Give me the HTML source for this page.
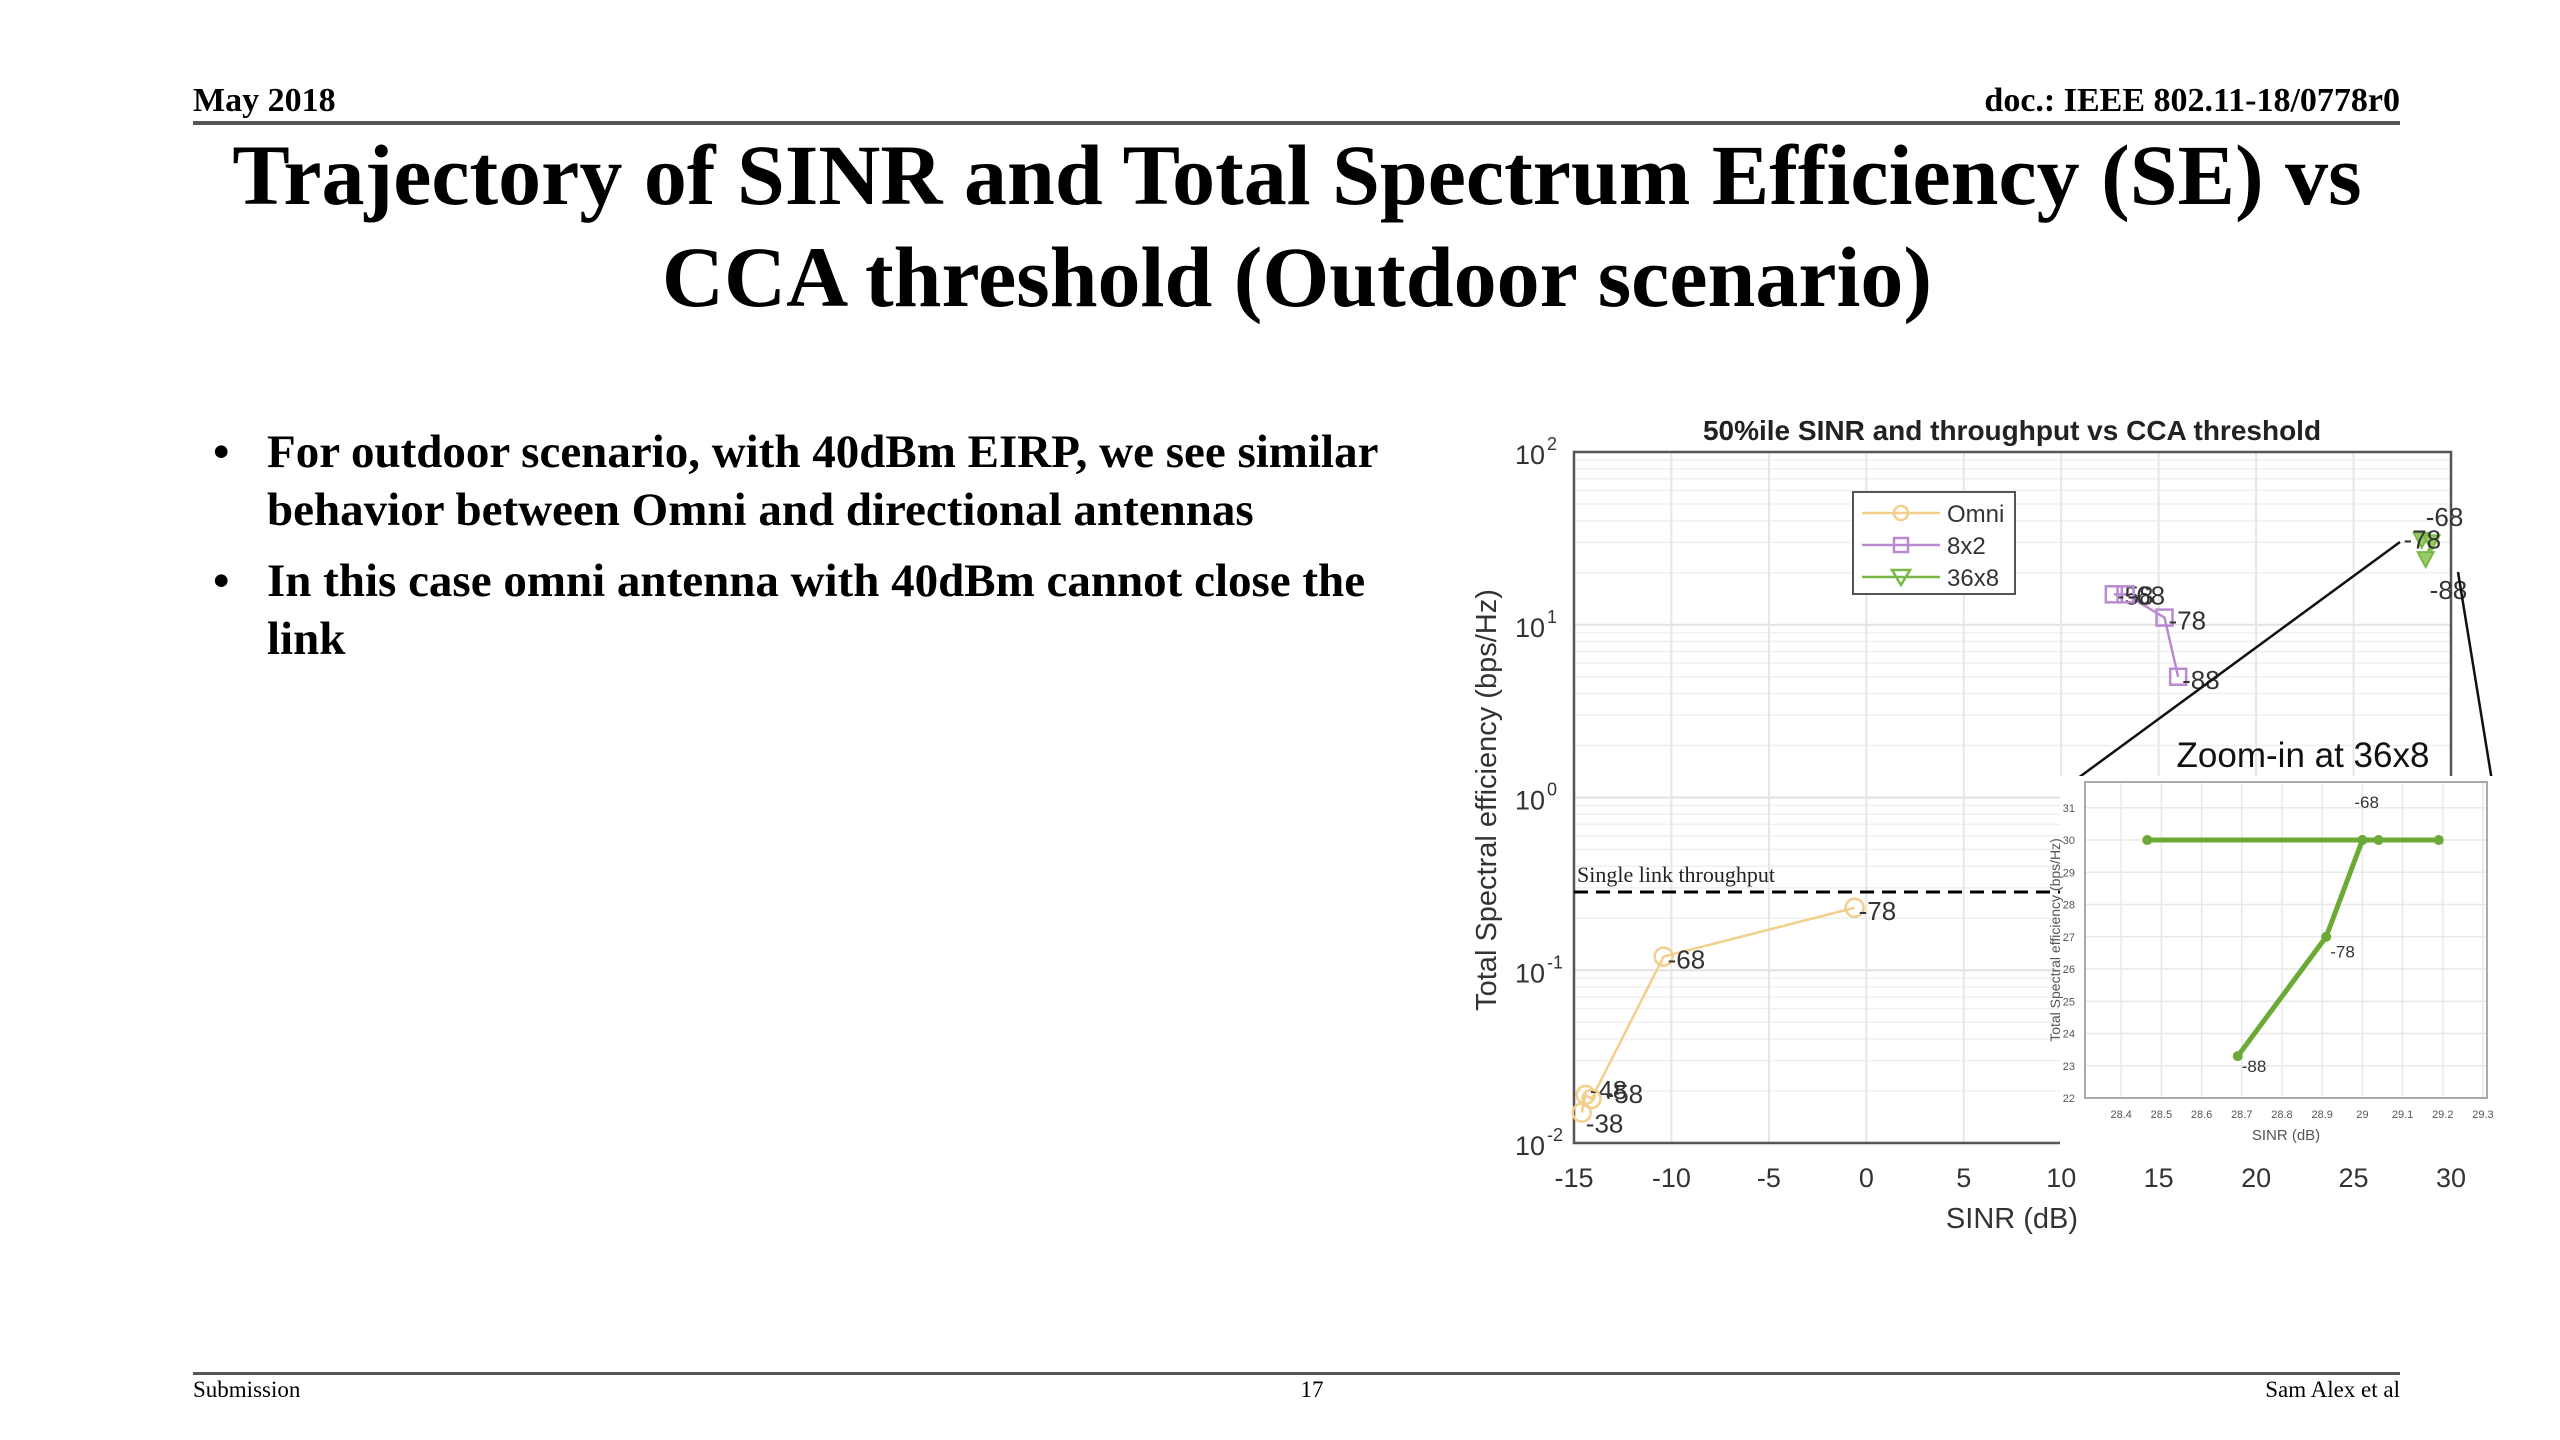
<!DOCTYPE html>
<html><head><meta charset="utf-8"><style>
html,body{margin:0;padding:0;background:#fff;}
body{width:2560px;height:1440px;position:relative;overflow:hidden;font-family:"Liberation Serif",serif;}
.t{position:absolute;white-space:nowrap;}
</style></head><body>
<div class="t" style="left:193px;top:82px;font-size:34px;font-weight:bold;">May 2018</div>
<div class="t" style="right:160px;top:82px;font-size:34px;font-weight:bold;">doc.: IEEE 802.11-18/0778r0</div>
<div style="position:absolute;left:193px;top:121px;width:2207px;height:4px;background:#555;"></div>
<div class="t" style="left:0;width:2594px;top:124px;text-align:center;font-size:86px;font-weight:bold;line-height:102px;">Trajectory of SINR and Total Spectrum Efficiency (SE) vs<br>CCA threshold (Outdoor scenario)</div>
<div style="position:absolute;left:205px;top:423px;width:1240px;font-size:47px;font-weight:bold;line-height:58px;">
 <div style="position:relative;padding-left:62px;margin-bottom:13px;"><span style="position:absolute;left:8px;">•</span>For outdoor scenario, with 40dBm EIRP, we see similar behavior between Omni and directional antennas</div>
 <div style="position:relative;padding-left:62px;"><span style="position:absolute;left:8px;">•</span>In this case omni antenna with 40dBm cannot close the link</div>
</div>
<div style="position:absolute;left:193px;top:1372px;width:2207px;height:3px;background:#555;"></div>
<div class="t" style="left:193px;top:1377px;font-size:23px;">Submission</div>
<div class="t" style="left:1287px;width:50px;text-align:center;top:1377px;font-size:23px;">17</div>
<div class="t" style="right:160px;top:1377px;font-size:23px;">Sam Alex et al</div>

<svg id="chart" width="2560" height="1440" style="position:absolute;left:0;top:0;" xmlns="http://www.w3.org/2000/svg"></svg>
<script>
const xTicks=[-15,-10,-5,0,5,10,15,20,25,30];
const yDecades=[-2,-1,0,1,2];
const omniX=[-14.6,-14.4,-14.1,-10.4,-0.6];
const omniY=[0.015,0.019,0.018,0.12,0.23];
const omniLbl=["-38","-48","-58","-68","-78"];
const x82X=[12.7,13.3,15.3,16.0];
const x82Y=[15,15,11,5];
const x82Lbl=["-58","-68","-78","-88"];
const x368X=[28.5,29.0,28.7];
const x368Y=[31,30,24];
const x368Lbl=["-68","-78","-88"];
const singleLink=0.284;
const inX=[28.465,29.0,29.04,29.19];
const inY=[30,30,30,30];
const inDX=[28.69,28.91,29.0];
const inDY=[23.3,27.0,30];
const inLbl=["-68","-78","-88"];
const inXTicks=[28.4,28.5,28.6,28.7,28.8,28.9,29,29.1,29.2,29.3];
const inYTicks=[22,23,24,25,26,27,28,29,30,31,32];

const svg=document.getElementById('chart');
const NS='http://www.w3.org/2000/svg';
function mk(tag,attrs,name,parent){const e=document.createElementNS(NS,tag);for(const k in attrs)e.setAttribute(k,attrs[k]);


(parent||svg).appendChild(e);return e;}
const L=1574,R=2451,T=452,B=1143;
const sx=v=>L+(v+15)/45*(R-L);
const sy=v=>B-(Math.log10(v)+2)/4*(B-T);
for(let d=-2;d<2;d++)for(let m=1;m<10;m++){const y=sy(m*Math.pow(10,d));mk('line',{x1:L,x2:R,y1:y,y2:y,stroke:m==1?'#e2e2e2':'#f0f0f0','stroke-width':m==1?2:1.5},'y-grid-line');}
xTicks.forEach(v=>{mk('line',{x1:sx(v),x2:sx(v),y1:T,y2:B,stroke:'#e6e6e6','stroke-width':2},'x-grid-line');});
mk('rect',{x:L,y:T,width:R-L,height:B-T,fill:'none',stroke:'#555','stroke-width':2.5},'plot-frame');
xTicks.forEach(v=>{const t=mk('text',{x:sx(v),y:1187,'font-size':27,'text-anchor':'middle',fill:'#333','font-family':'Liberation Sans, sans-serif'},'x-tick-label');t.textContent=v;});
yDecades.forEach(d=>{const t=mk('text',{x:1545,y:sy(Math.pow(10,d))+12,'font-size':27,'text-anchor':'end',fill:'#333','font-family':'Liberation Sans, sans-serif'},'y-tick-label');t.textContent='10';
const s=mk('text',{x:1547,y:sy(Math.pow(10,d))-2,'font-size':18,fill:'#333','font-family':'Liberation Sans, sans-serif'},'y-tick-exponent');s.textContent=d;});
let t=mk('text',{x:2012,y:440,'font-size':28,'font-weight':'bold','text-anchor':'middle',fill:'#222','font-family':'Liberation Sans, sans-serif'},'chart-title');t.textContent='50%ile SINR and throughput vs CCA threshold';
t=mk('text',{x:2012,y:1228,'font-size':29,'text-anchor':'middle',fill:'#333','font-family':'Liberation Sans, sans-serif'},'x-axis-title');t.textContent='SINR (dB)';
t=mk('text',{x:0,y:0,'font-size':29,'text-anchor':'middle',fill:'#333',transform:'translate(1496,800) rotate(-90)','font-family':'Liberation Sans, sans-serif'},'y-axis-title');t.textContent='Total Spectral efficiency (bps/Hz)';
mk('line',{x1:L,x2:sx(10.5),y1:sy(singleLink),y2:sy(singleLink),stroke:'#000','stroke-width':3,'stroke-dasharray':'14 8'},'single-link-line');
t=mk('text',{x:1577,y:sy(singleLink)-10,'font-size':22,fill:'#222'},'single-link-label');t.textContent='Single link throughput';
function series(xs,ys,lbls,col,shape,name,dx,dy){
 mk('polyline',{points:xs.map((v,i)=>sx(v)+','+sy(ys[i])).join(' '),fill:'none',stroke:col,'stroke-width':2.5},name+'-line');
 xs.forEach((v,i)=>{const x=sx(v),y=sy(ys[i]);
  if(shape=='o')mk('circle',{cx:x,cy:y,r:9,fill:'none',stroke:col,'stroke-width':2.5},name+'-marker');
  else if(shape=='s')mk('rect',{x:x-8,y:y-8,width:16,height:16,fill:'none',stroke:col,'stroke-width':2.5},name+'-marker');
  else mk('polygon',{points:`${x-8},${y-7} ${x+8},${y-7} ${x},${y+8}`,fill:'#9c6',stroke:col,'stroke-width':2},name+'-marker');
  const l=mk('text',{x:x+(dx[i]||4),y:y+(dy[i]||10),'font-size':26,fill:'#333','font-family':'Liberation Sans, sans-serif'},name+'-point-label');l.textContent=lbls[i];});
}
series(omniX,omniY,omniLbl,'#f2cf8a','o','omni',[4,4,14,4,4],[20,4,4,12,12]);
series(x82X,x82Y,x82Lbl,'#b98ad0','s','8x2',[2,2,4,4],[10,10,12,12]);
series(x368X,x368Y,x368Lbl,'#7ab648','v','36x8',[4,-28,0],[-14,6,40]);
mk('rect',{x:1853,y:492,width:162,height:102,fill:'#fff',stroke:'#555','stroke-width':2},'legend-box');
[['Omni','#f2cf8a','o'],['8x2','#b98ad0','s'],['36x8','#7ab648','v']].forEach((e,i)=>{const y=513+i*32;
 mk('line',{x1:1862,x2:1940,y1:y,y2:y,stroke:e[1],'stroke-width':2.5},'legend-swatch');
 if(e[2]=='o')mk('circle',{cx:1901,cy:y,r:7,fill:'none',stroke:e[1],'stroke-width':2.5},'legend-marker');
 else if(e[2]=='s')mk('rect',{x:1894,y:y-7,width:14,height:14,fill:'none',stroke:e[1],'stroke-width':2.5},'legend-marker');
 else mk('polygon',{points:`1892,${y-7} 1910,${y-7} 1901,${y+8}`,fill:'none',stroke:e[1],'stroke-width':2.5},'legend-marker');
 const l=mk('text',{x:1947,y:y+9,'font-size':24,fill:'#333','font-family':'Liberation Sans, sans-serif'},'legend-label');l.textContent=e[0];});
mk('line',{x1:2074,y1:781,x2:2400,y2:542,stroke:'#111','stroke-width':2.5},'zoom-connector-left');
mk('line',{x1:2492,y1:781,x2:2458,y2:572,stroke:'#111','stroke-width':2.5},'zoom-connector-right');
t=mk('text',{x:2303,y:767,'font-size':35,'text-anchor':'middle',fill:'#111','font-family':'Liberation Sans, sans-serif'},'inset-title');t.textContent='Zoom-in at 36x8';
const iL=2085,iR=2487,iT=782,iB=1098;
const ix=v=>iL+(v-28.31)/(29.31-28.31)*(iR-iL);
const iy=v=>iB-(v-22)/(31.8-22)*(iB-iT);
mk('rect',{x:2060,y:776,width:448,height:382,fill:'#fff'},'inset-background');
inXTicks.forEach(v=>{mk('line',{x1:ix(v),x2:ix(v),y1:iT,y2:iB,stroke:'#e8e8e8','stroke-width':1.5},'inset-x-grid');
 const l=mk('text',{x:ix(v),y:iB+20,'font-size':11,'text-anchor':'middle',fill:'#555','font-family':'Liberation Sans, sans-serif'},'inset-x-tick-label');l.textContent=v;});
inYTicks.forEach(v=>{if(v>31.8)return;mk('line',{x1:iL,x2:iR,y1:iy(v),y2:iy(v),stroke:'#e8e8e8','stroke-width':1.5},'inset-y-grid');
 const l=mk('text',{x:iL-10,y:iy(v)+4,'font-size':11,'text-anchor':'end',fill:'#555','font-family':'Liberation Sans, sans-serif'},'inset-y-tick-label');l.textContent=v;});
mk('rect',{x:iL,y:iT,width:iR-iL,height:iB-iT,fill:'none',stroke:'#aaa','stroke-width':2},'inset-frame');
t=mk('text',{x:(iL+iR)/2,y:1140,'font-size':15,'text-anchor':'middle',fill:'#555','font-family':'Liberation Sans, sans-serif'},'inset-x-axis-title');t.textContent='SINR (dB)';
t=mk('text',{x:0,y:0,'font-size':14,'text-anchor':'middle',fill:'#555',transform:`translate(2060,${(iT+iB)/2}) rotate(-90)`,'font-family':'Liberation Sans, sans-serif'},'inset-y-axis-title');t.textContent='Total Spectral efficiency (bps/Hz)';
mk('polyline',{points:inX.map((v,i)=>ix(v)+','+iy(inY[i])).join(' '),fill:'none',stroke:'#6aaa35','stroke-width':5},'inset-flat-line');
mk('polyline',{points:inDX.map((v,i)=>ix(v)+','+iy(inDY[i])).join(' '),fill:'none',stroke:'#6aaa35','stroke-width':5},'inset-diag-line');
inX.forEach((v,i)=>mk('circle',{cx:ix(v),cy:iy(inY[i]),r:5,fill:'#6aaa35'},'inset-marker'));
inDX.forEach((v,i)=>mk('circle',{cx:ix(v),cy:iy(inDY[i]),r:5,fill:'#6aaa35'},'inset-marker'));
const lp=[[inDX[2]-0.02,inDY[2]+1.0],[inDX[1]+0.01,inDY[1]-0.65],[inDX[0]+0.01,inDY[0]-0.5]];
inLbl.forEach((s,i)=>{const l=mk('text',{x:ix(lp[i][0]),y:iy(lp[i][1]),'font-size':17,fill:'#333','font-family':'Liberation Sans, sans-serif'},'inset-point-label');l.textContent=s;});
</script>
</body></html>
